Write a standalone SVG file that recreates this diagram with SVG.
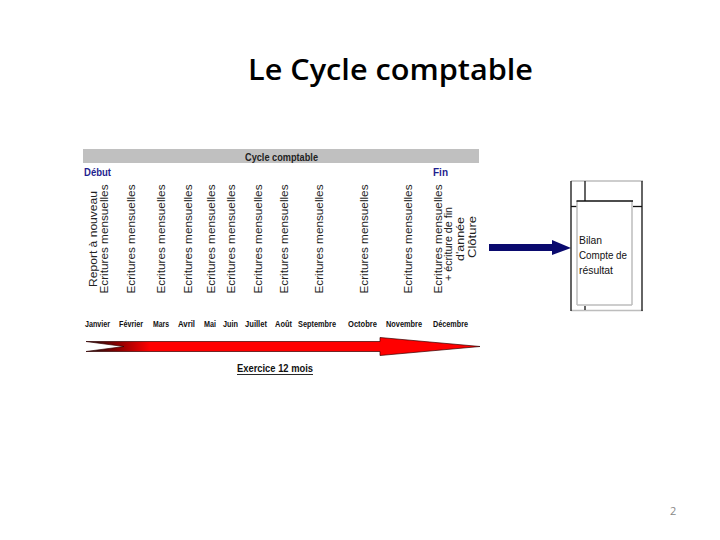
<svg xmlns="http://www.w3.org/2000/svg" width="720" height="540" viewBox="0 0 720 540">
<style>
.vt{font-family:"Liberation Sans",Arial,sans-serif;font-size:11px;fill:#222;text-anchor:middle}
.mo{font-family:"Liberation Sans",Arial,sans-serif;font-size:9px;font-weight:bold;fill:#111}
.hd{font-family:"Liberation Sans",Arial,sans-serif;font-size:10px;font-weight:bold;fill:#1f1f8f}
.bx{font-family:"Liberation Sans",Arial,sans-serif;font-size:10.5px;fill:#111}
.blk{stroke:#111;stroke-width:1.3;fill:none}
.gry{stroke:#bdbdbd;stroke-width:1.5;fill:none}
</style>
<defs>
<linearGradient id="rg" gradientUnits="userSpaceOnUse" x1="86" y1="0" x2="150" y2="0">
<stop offset="0" stop-color="#111"/>
<stop offset="0.5" stop-color="#8b0000"/>
<stop offset="1" stop-color="#ff0000"/>
</linearGradient>
</defs>
<rect width="720" height="540" fill="#fff"/>
<g id="title">
<text x="248" y="80" textLength="285" lengthAdjust="spacingAndGlyphs" font-family="'Open Sans',sans-serif" font-weight="600" font-size="28" fill="#000">Le Cycle comptable</text>
</g>
<g id="header">
<rect x="83" y="149" width="396" height="14" fill="#c0c0c0"/>
<text x="281.5" y="160.5" text-anchor="middle" font-family="'Liberation Sans',Arial,sans-serif" font-size="10" font-weight="bold" fill="#222" textLength="73" lengthAdjust="spacingAndGlyphs">Cycle comptable</text>
<text class="hd" x="84" y="176" textLength="27" lengthAdjust="spacingAndGlyphs">Début</text>
<text class="hd" x="433" y="176" textLength="15" lengthAdjust="spacingAndGlyphs">Fin</text>
</g>
<g id="columns">
<text class="vt" transform="translate(96.5,239) rotate(-90)" textLength="96" lengthAdjust="spacingAndGlyphs">Report à nouveau</text>
<text class="vt" transform="translate(108,239) rotate(-90)" textLength="109" lengthAdjust="spacingAndGlyphs">Ecritures mensuelles</text>
<text class="vt" transform="translate(135,239) rotate(-90)" textLength="109" lengthAdjust="spacingAndGlyphs">Ecritures mensuelles</text>
<text class="vt" transform="translate(165,239) rotate(-90)" textLength="109" lengthAdjust="spacingAndGlyphs">Ecritures mensuelles</text>
<text class="vt" transform="translate(191.5,239) rotate(-90)" textLength="109" lengthAdjust="spacingAndGlyphs">Ecritures mensuelles</text>
<text class="vt" transform="translate(215,239) rotate(-90)" textLength="109" lengthAdjust="spacingAndGlyphs">Ecritures mensuelles</text>
<text class="vt" transform="translate(235,239) rotate(-90)" textLength="109" lengthAdjust="spacingAndGlyphs">Ecritures mensuelles</text>
<text class="vt" transform="translate(261.5,239) rotate(-90)" textLength="109" lengthAdjust="spacingAndGlyphs">Ecritures mensuelles</text>
<text class="vt" transform="translate(288,239) rotate(-90)" textLength="109" lengthAdjust="spacingAndGlyphs">Ecritures mensuelles</text>
<text class="vt" transform="translate(323,239) rotate(-90)" textLength="109" lengthAdjust="spacingAndGlyphs">Ecritures mensuelles</text>
<text class="vt" transform="translate(368,239) rotate(-90)" textLength="109" lengthAdjust="spacingAndGlyphs">Ecritures mensuelles</text>
<text class="vt" transform="translate(411.5,239) rotate(-90)" textLength="109" lengthAdjust="spacingAndGlyphs">Ecritures mensuelles</text>
<text class="vt" transform="translate(441.5,239) rotate(-90)" textLength="109" lengthAdjust="spacingAndGlyphs">Ecritures mensuelles</text>
<text class="vt" transform="translate(452,244) rotate(-90)" textLength="74" lengthAdjust="spacingAndGlyphs">+ écriture de fin</text>
<text class="vt" transform="translate(463.5,239) rotate(-90)" textLength="44" lengthAdjust="spacingAndGlyphs">d'année</text>
<text class="vt" transform="translate(476,237) rotate(-90)" textLength="42" lengthAdjust="spacingAndGlyphs">Clôture</text>
</g>
<g id="months">
<text class="mo" x="85" y="327" textLength="25" lengthAdjust="spacingAndGlyphs">Janvier</text>
<text class="mo" x="119" y="327" textLength="24" lengthAdjust="spacingAndGlyphs">Février</text>
<text class="mo" x="153" y="327" textLength="16" lengthAdjust="spacingAndGlyphs">Mars</text>
<text class="mo" x="178" y="327" textLength="17" lengthAdjust="spacingAndGlyphs">Avril</text>
<text class="mo" x="204" y="327" textLength="12" lengthAdjust="spacingAndGlyphs">Mai</text>
<text class="mo" x="223" y="327" textLength="15" lengthAdjust="spacingAndGlyphs">Juin</text>
<text class="mo" x="245" y="327" textLength="22" lengthAdjust="spacingAndGlyphs">Juillet</text>
<text class="mo" x="275" y="327" textLength="17" lengthAdjust="spacingAndGlyphs">Août</text>
<text class="mo" x="298" y="327" textLength="38" lengthAdjust="spacingAndGlyphs">Septembre</text>
<text class="mo" x="348" y="327" textLength="29" lengthAdjust="spacingAndGlyphs">Octobre</text>
<text class="mo" x="386" y="327" textLength="36" lengthAdjust="spacingAndGlyphs">Novembre</text>
<text class="mo" x="433" y="327" textLength="35" lengthAdjust="spacingAndGlyphs">Décembre</text>
</g>
<g id="connectors">
<polygon points="86,341.5 380,341.5 380,337.5 480,346.5 380,355.5 380,351.5 86,351.5 124,346.5" fill="url(#rg)" stroke="#300" stroke-width="0.7"/>
<polygon points="489,244 552,244 552,240 571,248 552,255 552,251 489,251" fill="#0a0a6e"/>
</g>
<g id="exercice">
<text x="237" y="372" font-family="'Liberation Sans',Arial,sans-serif" font-size="10" font-weight="bold" fill="#111" textLength="76" lengthAdjust="spacingAndGlyphs">Exercice 12 mois</text>
<line x1="237" y1="374.5" x2="313" y2="374.5" stroke="#111" stroke-width="0.9"/>
</g>
<g id="result-box">
<line class="gry" x1="571" y1="181" x2="643" y2="181"/>
<line class="gry" x1="571" y1="310.5" x2="643" y2="310.5"/>
<line class="blk" x1="571" y1="181" x2="571" y2="311"/>
<line class="blk" x1="642" y1="181" x2="642" y2="311"/>
<line class="blk" x1="585" y1="181" x2="585" y2="201"/>
<line class="blk" x1="585" y1="306" x2="585" y2="310"/>
<line class="blk" x1="571" y1="206.5" x2="577" y2="206.5"/>
<line class="blk" x1="633" y1="206.5" x2="642" y2="206.5"/>
<line class="gry" x1="577" y1="201" x2="577" y2="305"/>
<line class="gry" x1="632" y1="201" x2="632" y2="305"/>
<line class="gry" x1="577" y1="305" x2="632" y2="305"/>
<line class="blk" x1="576.5" y1="201" x2="633" y2="201"/>
<text class="bx" x="579" y="244" textLength="23" lengthAdjust="spacingAndGlyphs">Bilan</text>
<text class="bx" x="579" y="259" textLength="48" lengthAdjust="spacingAndGlyphs">Compte de</text>
<text class="bx" x="579" y="274" textLength="34" lengthAdjust="spacingAndGlyphs">résultat</text>
</g>
<g id="page">
<text x="670" y="515" font-family="'Open Sans',sans-serif" font-size="11" fill="#888">2</text>
</g>
</svg>
